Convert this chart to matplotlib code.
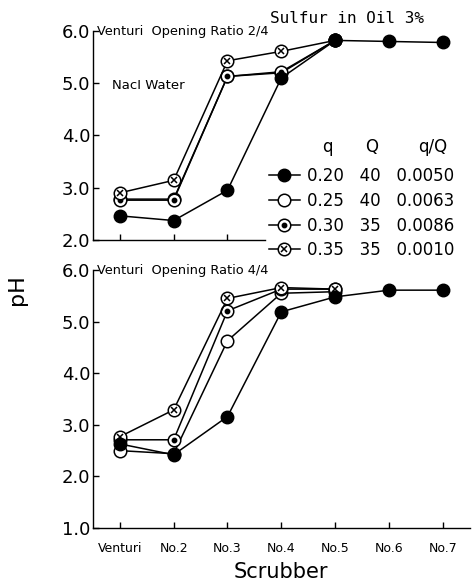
import matplotlib
matplotlib.use("Agg")
import matplotlib.pyplot as plt
from matplotlib.legend_handler import HandlerTuple

categories = ["Venturi", "No.2", "No.3", "No.4", "No.5", "No.6", "No.7"]

q_vals = ["0.20", "0.25", "0.30", "0.35"]
Q_vals = ["40", "40", "35", "35"]
qQ_vals = ["0.0050", "0.0063", "0.0086", "0.0010"]

# Top panel: Venturi opening ratio 2/4
top_q020 = [2.46, 2.37, 2.95, 5.10, 5.82, 5.80, 5.78]
top_q025 = [2.78, 2.78, 5.13, 5.20, 5.82]
top_q030 = [2.76, 2.76, 5.13, 5.22, 5.82]
top_q035 = [2.90, 3.14, 5.43, 5.61, 5.82]

# Bottom panel: Venturi opening ratio 4/4
bot_q020 = [2.63, 2.42, 3.16, 5.19, 5.48, 5.61, 5.61]
bot_q025 = [2.50, 2.44, 4.63, 5.55, 5.58]
bot_q030 = [2.71, 2.71, 5.21, 5.63, 5.63]
bot_q035 = [2.77, 3.29, 5.45, 5.66, 5.63]

fig = plt.figure(figsize=(4.74, 5.85), dpi=100)
ax1 = fig.add_axes([0.196, 0.590, 0.795, 0.357])
ax2 = fig.add_axes([0.196, 0.0974, 0.795, 0.441])

LW = 1.1
MS = 9


def draw(ax, series):
    order = [1, 2, 3, 0]
    hs = {}
    for i in order:
        y = series[i]
        x = list(range(len(y)))
        if i == 0:
            l, = ax.plot(x, y, '-', color='black', lw=LW, marker='o', ms=MS,
                         mfc='black', mec='black', clip_on=False, zorder=5)
            hs[i] = l
        else:
            l, = ax.plot(x, y, '-', color='black', lw=LW, marker='o', ms=MS,
                         mfc='white', mec='black', mew=1.1, clip_on=False, zorder=3 + i * 0.1)
            if i == 2:
                m, = ax.plot(x, y, ls='none', marker='o', ms=3.2, mfc='black', mec='black',
                             clip_on=False, zorder=3 + i * 0.1 + 0.01)
                hs[i] = (l, m)
            elif i == 3:
                m, = ax.plot(x, y, ls='none', marker='x', ms=5, mec='black', mew=1.1,
                             clip_on=False, zorder=3 + i * 0.1 + 0.01)
                hs[i] = (l, m)
            else:
                hs[i] = l
    return [hs[i] for i in range(4)]


handles = draw(ax1, [top_q020, top_q025, top_q030, top_q035])
draw(ax2, [bot_q020, bot_q025, bot_q030, bot_q035])

for ax in (ax1, ax2):
    ax.set_xlim(-0.5, 6.5)
    ax.spines['top'].set_visible(False)
    ax.spines['right'].set_visible(False)
    ax.spines['left'].set_linewidth(1.0)
    ax.spines['bottom'].set_linewidth(1.0)
    ax.tick_params(direction='in', length=4, width=1.0, labelsize=13, pad=2)

ax1.set_ylim(2.0, 6.0)
ax1.set_yticks([2, 3, 4, 5, 6])
ax1.set_yticklabels(["2.0", "3.0", "4.0", "5.0", "6.0"])
ax1.set_xticks([0, 1, 2])
ax1.set_xticklabels([])
ax1.spines['bottom'].set_bounds(-0.5, 2.7)

ax2.set_ylim(1.0, 6.0)
ax2.set_yticks([1, 2, 3, 4, 5, 6])
ax2.set_yticklabels(["1.0", "2.0", "3.0", "4.0", "5.0", "6.0"])
ax2.set_xticks(range(len(categories)))
ax2.set_xticklabels(categories, fontsize=9)
ax2.tick_params(axis='x', pad=10)

ax2.set_xlabel("Scrubber", fontsize=15, labelpad=5)
fig.text(0.035, 0.505, "pH", rotation=90, fontsize=16, ha='center', va='center')

ax1.text(0.01, 1.0, "Venturi  Opening Ratio 2/4", transform=ax1.transAxes,
         fontsize=9.3, ha='left', va='center')
ax1.text(0.05, 0.74, "NacI Water", transform=ax1.transAxes, fontsize=9.5, ha='left', va='center')
ax2.text(0.01, 1.0, "Venturi  Opening Ratio 4/4", transform=ax2.transAxes,
         fontsize=9.3, ha='left', va='center')
fig.text(0.570, 0.968, "Sulfur in Oil 3%", fontsize=11.5, family='DejaVu Sans Mono',
         ha='left', va='center')

labels = [f"{a}   {b}   {c}" for a, b, c in zip(q_vals, Q_vals, qQ_vals)]
leg = fig.legend(handles, labels, loc='upper left', bbox_to_anchor=(0.542, 0.734),
                 frameon=False, fontsize=12, handlelength=1.9, handletextpad=0.4,
                 labelspacing=0.40, borderpad=0.2,
                 handler_map={tuple: HandlerTuple(ndivide=1)})
fig.text(0.690, 0.749, "q", fontsize=12, ha='center', va='center')
fig.text(0.785, 0.749, "Q", fontsize=12, ha='center', va='center')
fig.text(0.913, 0.749, "q/Q", fontsize=12, ha='center', va='center')

fig.savefig("out.png", dpi=100)
